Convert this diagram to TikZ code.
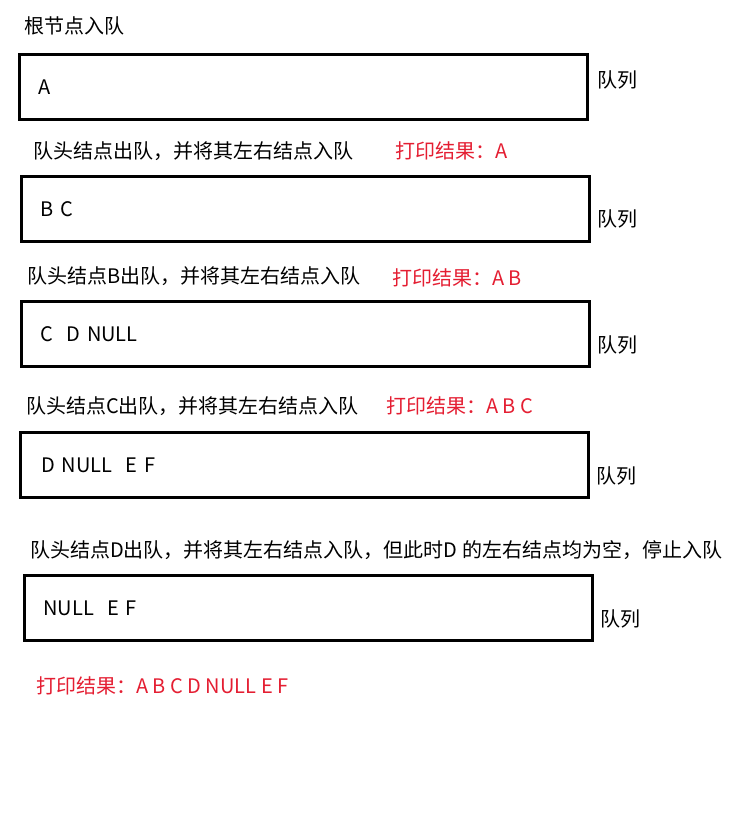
\documentclass[tikz,border=0pt]{standalone}
\usepackage{fontspec}
\setmainfont{Noto Sans CJK SC}
\usetikzlibrary{positioning}
\definecolor{printred}{RGB}{228,30,50}
\tikzset{queue/.style={draw,line width=3pt,anchor=north west,minimum height=65pt,text width=530pt,inner xsep=19pt,align=left}}
\tikzset{steptext/.style={anchor=west,inner sep=0pt}}
\tikzset{printtext/.style={steptext,text=printred}}

\begin{document}
\begin{tikzpicture}[x=1pt,y=-1pt,every node/.style={font=\fontsize{20}{24}\selectfont}]
        \useasboundingbox (0,0) rectangle (737,813);

        \node (root) [steptext]  at (24,26)   {根节点入队};
        \node (q1)   [queue]     at (18,53)   {A};
        \node (n1)   [steptext]  at (597,80)  {队列};

        \node (s2)   [steptext]  at (33,151)  {队头结点出队，并将其左右结点入队};
        \node (p2)   [printtext] at (395,151) {打印结果：A};
        \node (q2)   [queue]     at (20,175)  {B C};
        \node (n2)   [steptext]  at (597,219) {队列};

        \node (s3)   [steptext]  at (27,276)  {队头结点B出队，并将其左右结点入队};
        \node (p3)   [printtext] at (392,278) {打印结果：A B};
        \node (q3)   [queue]     at (20,300)  {C\ \ D NULL};
        \node (n3)   [steptext]  at (597,345) {队列};

        \node (s4)   [steptext]  at (26,406)  {队头结点C出队，并将其左右结点入队};
        \node (p4)   [printtext] at (386,406) {打印结果：A B C};
        \node (q4)   [queue]     at (19,431)  {\hspace{2pt}D NULL\ \ E F};
        \node (n4)   [steptext]  at (596,476) {队列};

        \node (s5)   [steptext]  at (30,550)  {队头结点D出队，并将其左右结点入队，但此时D 的左右结点均为空，停止入队};
        \node (q5)   [queue]     at (23,574)  {NULL\ \ E F};
        \node (n5)   [steptext]  at (600,619) {队列};

        \node (p5)   [printtext] at (36,686)  {打印结果：A B C D NULL E F};
    \end{tikzpicture}
\end{document}
